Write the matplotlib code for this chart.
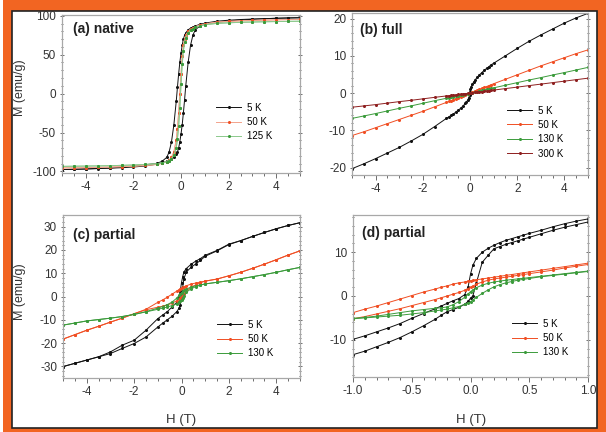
import matplotlib
matplotlib.use('Agg')
import matplotlib.pyplot as plt
from matplotlib.patches import Rectangle
from matplotlib.ticker import MultipleLocator, FormatStrFormatter

plt.rcParams['font.family'] = ['Liberation Sans', 'DejaVu Sans']
plt.rcParams['axes.unicode_minus'] = False

# ---- (a) native : field grid (ascending) and branches ----
Ha = [-5, -4.5, -4, -3.5, -3, -2.5, -2, -1.5, -1, -0.8, -0.6, -0.5, -0.4, -0.3, -0.2,
      -0.15, -0.1, -0.05, 0, 0.05, 0.1, 0.15, 0.2, 0.3, 0.4, 0.5, 0.6, 0.8, 1, 1.5,
      2, 2.5, 3, 3.5, 4, 4.5, 5]
a5_dn = [97.5, 97.2, 96.8, 96.3, 95.8, 95.2, 94.3, 93.0, 90.5, 89, 87, 85.5, 84, 82, 78,
         75, 70, 62, 52, 40, 25, 8, -10, -40, -62, -75, -82, -87, -89.5, -91.5,
         -93.3, -94.5, -95.5, -96.2, -96.8, -97.2, -97.6]
a5_up = [-97.6, -97.2, -96.8, -96.3, -95.8, -95.2, -94.3, -93.0, -90.5, -89, -87, -85.5, -84, -82, -78,
         -75, -70, -62, -52, -40, -25, -8, 10, 40, 62, 75, 82, 87, 89.5, 91.5,
         93.3, 94.5, 95.5, 96.2, 96.8, 97.2, 97.5]
a50_dn = [95.3, 95.1, 94.8, 94.4, 94, 93.5, 92.8, 91.8, 89.5, 88, 86, 84.5, 82.5, 80, 75,
          70, 62, 48, 25, 0, -25, -45, -60, -75, -82, -85.5, -87.5, -89.5, -91, -92.3,
          -93.2, -93.9, -94.4, -94.8, -95.1, -95.3, -95.5]
a50_up = [-95.5, -95.3, -95.1, -94.8, -94.4, -93.9, -93.2, -92.3, -91, -89.5, -87.5, -85.5, -82, -75, -60,
          -45, -25, 0, 25, 48, 62, 70, 75, 80, 82.5, 84.5, 86, 88, 89.5, 91.8,
          92.8, 93.5, 94, 94.4, 94.8, 95.1, 95.3]
a125_dn = [93, 92.8, 92.6, 92.3, 92, 91.6, 91, 90.2, 88.5, 87, 85, 83.5, 81.5, 78, 72,
           66, 55, 38, 12, -18, -42, -58, -70, -79, -83.5, -86, -87.5, -89, -90, -91,
           -91.7, -92.2, -92.6, -92.9, -93.1, -93.3, -93.5]
a125_up = [-93.5, -93.3, -93.1, -92.9, -92.6, -92.2, -91.7, -91, -90, -89, -87.5, -86, -83.5, -79, -70,
           -58, -42, -18, 12, 38, 55, 66, 72, 78, 81.5, 83.5, 85, 87, 88.5, 90.2,
           91, 91.6, 92, 92.3, 92.6, 92.8, 93]

# ---- (b) full ----
Hb5 = [-5, -4.5, -4, -3.5, -3, -2.5, -2, -1.5, -1, -0.9, -0.8, -0.7, -0.6, -0.5, -0.4,
       -0.3, -0.2, -0.15, -0.1, -0.05, -0.02, 0, 0.02, 0.05, 0.1, 0.15, 0.2, 0.3, 0.4,
       0.5, 0.6, 0.7, 0.8, 0.9, 1, 1.5, 2, 2.5, 3, 3.5, 4, 4.5, 5]
b5 = [-20.3, -19.0, -17.6, -16.1, -14.6, -12.9, -11.1, -9.0, -6.8, -6.4, -6.0, -5.6, -5.1, -4.6, -4.1,
      -3.5, -2.8, -2.4, -1.9, -1.2, -0.6, 0.2, 1.0, 1.7, 2.4, 2.9, 3.4, 4.2, 4.9,
      5.5, 6.1, 6.6, 7.1, 7.6, 8.0, 10.0, 12.0, 13.9, 15.6, 17.2, 18.8, 20.2, 21.4]
Hb = [-5, -4.5, -4, -3.5, -3, -2.5, -2, -1.5, -1, -0.9, -0.8, -0.7, -0.6, -0.5, -0.4,
      -0.3, -0.2, -0.1, 0, 0.1, 0.2, 0.3, 0.4, 0.5, 0.6, 0.7, 0.8, 0.9, 1, 1.5, 2,
      2.5, 3, 3.5, 4, 4.5, 5]
b50 = [-11.4, -10.4, -9.3, -8.2, -7.1, -6.0, -4.9, -3.7, -2.5, -2.25, -2.0, -1.75, -1.5, -1.25, -1.0,
       -0.75, -0.5, -0.25, 0, 0.25, 0.5, 0.75, 1.0, 1.25, 1.5, 1.75, 2.0, 2.25, 2.5, 3.7, 4.9,
       6.1, 7.3, 8.4, 9.5, 10.6, 11.6]
b130 = [-6.8, -6.15, -5.5, -4.8, -4.1, -3.45, -2.75, -2.05, -1.4, -1.25, -1.1, -0.97, -0.83, -0.69, -0.55,
        -0.41, -0.28, -0.14, 0, 0.14, 0.28, 0.41, 0.55, 0.69, 0.83, 0.97, 1.1, 1.25, 1.4, 2.1, 2.8,
        3.5, 4.15, 4.85, 5.5, 6.2, 6.9]
b300 = [-3.8, -3.45, -3.1, -2.7, -2.3, -1.95, -1.55, -1.15, -0.77, -0.7, -0.62, -0.54, -0.46, -0.38, -0.31,
        -0.23, -0.15, -0.08, 0, 0.08, 0.16, 0.24, 0.32, 0.4, 0.48, 0.56, 0.64, 0.72, 0.8, 1.2, 1.6,
        2.0, 2.4, 2.8, 3.2, 3.6, 4.0]

# ---- (c) partial, +-5 T ----
Hc = [-5, -4.5, -4, -3.5, -3, -2.5, -2, -1.5, -1, -0.8, -0.6, -0.4, -0.2, -0.1, -0.05,
      0, 0.05, 0.1, 0.2, 0.4, 0.6, 0.8, 1, 1.5, 2, 2.5, 3, 3.5, 4, 4.5, 5]
c5_up = [-30.1, -28.7, -27.3, -25.9, -24.5, -22.3, -20.2, -17.4, -13.1, -11.5, -10.0, -8.5, -6.5, -5.0, -3.5,
         -0.5, 4.0, 7.5, 10.5, 12.5, 14.0, 15.5, 17.3, 19.6, 22.3, 24.0, 25.8, 27.5, 29.1, 30.5, 31.7]
c5_dn = [31.7, 30.5, 29.1, 27.5, 25.8, 24.0, 22.5, 19.8, 17.7, 16.3, 15.2, 13.8, 12.0, 10.5, 8.5,
         6.0, 2.5, 0.0, -2.5, -4.5, -6.5, -8.0, -9.5, -14.5, -18.8, -20.9, -23.8, -25.9, -27.3, -28.7, -30.1]
c50_up = [-18.3, -16.4, -14.5, -12.8, -11.0, -9.3, -7.4, -5.7, -4.6, -4.2, -3.6, -2.9, -1.8, -1.0, -0.5,
          0.0, 0.6, 1.2, 2.3, 4.0, 5.0, 5.9, 6.6, 7.5, 8.9, 10.4, 12.1, 13.9, 15.8, 17.8, 19.6]
c50_dn = [19.6, 17.8, 15.8, 13.9, 12.1, 10.4, 8.9, 7.5, 6.6, 6.2, 5.8, 5.3, 4.6, 4.2, 4.0,
          3.7, 3.4, 3.0, 2.3, 1.0, -0.3, -1.5, -2.5, -5.5, -7.4, -9.3, -11.0, -12.8, -14.5, -16.4, -18.3]
c130_up = [-12.3, -11.4, -10.5, -9.9, -9.3, -8.6, -7.7, -6.6, -5.5, -5.0, -4.5, -3.9, -3.1, -2.5, -2.0,
           -1.4, -0.6, 0.3, 1.8, 3.3, 4.2, 4.9, 5.4, 6.1, 6.8, 7.6, 8.5, 9.4, 10.4, 11.5, 12.5]
c130_dn = [12.5, 11.5, 10.4, 9.4, 8.5, 7.6, 6.8, 6.1, 5.4, 5.0, 4.6, 4.0, 3.2, 2.6, 2.2,
           1.7, 1.1, 0.5, -0.7, -2.4, -3.5, -4.3, -5.0, -6.5, -7.7, -8.6, -9.3, -9.9, -10.5, -11.4, -12.3]

# ---- (d) partial, +-1 T ----
Hd = [-1, -0.9, -0.8, -0.7, -0.6, -0.5, -0.4, -0.3, -0.25, -0.2, -0.15, -0.1, -0.05, -0.02, 0,
      0.02, 0.05, 0.1, 0.15, 0.2, 0.25, 0.3, 0.35, 0.4, 0.45, 0.5, 0.6, 0.7, 0.8, 0.9, 1]
d5_up = [-13.4, -12.6, -11.6, -10.6, -9.5, -8.2, -6.8, -5.3, -4.4, -3.6, -3.1, -2.6, -1.9, -1.2, -0.5,
         0.0, 3.0, 7.7, 9.3, 10.8, 11.3, 11.8, 12.2, 12.6, 13.0, 13.4, 14.2, 15.0, 15.7, 16.3, 16.9]
d5_dn = [17.6, 17.1, 16.5, 15.8, 15.0, 14.3, 13.9, 13.5, 13.1, 12.7, 12.2, 11.6, 10.9, 10.0, 8.6,
         7.0, 5.0, 2.1, 0.3, -0.6, -1.1, -1.7, -2.3, -2.9, -4.0, -5.1, -6.3, -7.3, -8.2, -9.1, -9.9]
d50_up = [-5.2, -4.7, -4.1, -3.5, -2.9, -2.2, -1.5, -0.8, -0.4, 0.0, 0.4, 0.8, 1.3, 1.7, 2.0,
          2.3, 2.7, 3.2, 3.6, 3.9, 4.1, 4.3, 4.5, 4.7, 4.9, 5.1, 5.5, 5.9, 6.4, 6.8, 7.2]
d50_dn = [7.5, 7.1, 6.7, 6.3, 5.9, 5.5, 5.3, 5.1, 4.9, 4.7, 4.5, 4.3, 4.1, 3.9, 3.7,
          3.6, 3.5, 3.4, 3.2, 3.0, 2.7, 2.3, 2.0, 1.6, 0.9, 0.1, -0.7, -1.5, -2.3, -3.0, -3.8]
d130_up = [-5.2, -5.0, -4.8, -4.6, -4.4, -4.1, -3.8, -3.4, -3.2, -3.0, -2.7, -2.4, -1.9, -1.6, -1.3,
           -0.9, -0.3, 0.6, 1.4, 2.1, 2.6, 3.0, 3.3, 3.6, 3.8, 4.0, 4.4, 4.7, 5.0, 5.3, 5.6]
d130_dn = [5.7, 5.4, 5.1, 4.8, 4.5, 4.2, 4.05, 3.9, 3.75, 3.6, 3.4, 3.2, 2.9, 2.5, 1.9,
           1.4, 1.0, 0.5, -0.3, -1.3, -2.0, -2.5, -2.7, -2.8, -3.1, -3.4, -3.8, -4.2, -4.6, -4.9, -5.1]

BLACK = '#111111'
RED = '#f04e23'
GREEN = '#3b9b3b'
DRED = '#8e1f1f'
SPINE = '#a8a8a8'
TXT = '#333333'

fig = plt.figure(figsize=(6.06, 4.32), dpi=100)

# orange frame
fig.patches.append(Rectangle((3 / 606, 0), 1, 1, transform=fig.transFigure,
                             facecolor='#f26522', edgecolor='none', zorder=-3))
fig.patches.append(Rectangle((12 / 606, 4 / 432), (597 - 12) / 606, (428 - 11) / 432,
                             transform=fig.transFigure, facecolor='white',
                             edgecolor='#222222', linewidth=1.2, zorder=-2))

axes_px = {
    'a': (62, 15, 300, 173),
    'b': (352, 13, 588, 175),
    'c': (63, 215, 300, 378),
    'd': (353, 215, 588, 377),
}


def make_ax(key):
    x0, y0, x1, y1 = axes_px[key]
    ax = fig.add_axes([x0 / 606, 1 - y1 / 432, (x1 - x0) / 606, (y1 - y0) / 432])
    for s in ax.spines.values():
        s.set_color(SPINE)
        s.set_linewidth(0.9)
    ax.tick_params(which='both', direction='out', colors='#555555', labelcolor=TXT,
                   labelsize=8.5, width=0.6)
    ax.tick_params(which='major', length=3.5, pad=2.5)
    ax.tick_params(which='minor', length=2)
    ax.tick_params(which='both', right=True, top=False)
    ax.tick_params(axis='y', which='both', direction='inout')
    return ax


def branch(ax, x, y, color, label=None, lc=None):
    ax.plot(x, y, color=lc or color, lw=0.7, marker='o', ms=2.2, mfc=color, mec=color,
            mew=0, label=label)


def legend(ax, xa, ya):
    ax.legend(loc='center left', bbox_to_anchor=(xa, ya), frameon=False, fontsize=7,
              handlelength=2.6, handletextpad=0.6, labelspacing=0.45, borderpad=0,
              borderaxespad=0)


def title(ax, text, xa, ya):
    ax.text(xa, ya, text, transform=ax.transAxes, fontsize=10, fontweight='bold',
            color='#222222', ha='left', va='center')


# (a)
ax = make_ax('a')
branch(ax, Ha[::-1], a5_dn, BLACK, '5 K')
branch(ax, Ha, a5_up, BLACK)
branch(ax, Ha[::-1], a50_dn, RED, '50 K', lc='#f3a38c')
branch(ax, Ha, a50_up, RED, lc='#f3a38c')
branch(ax, Ha[::-1], a125_dn, GREEN, '125 K', lc='#8cc98c')
branch(ax, Ha, a125_up, GREEN, lc='#8cc98c')
ax.set_xlim(-5, 5)
ax.set_ylim(-102, 101)
ax.xaxis.set_major_locator(MultipleLocator(2))
ax.xaxis.set_minor_locator(MultipleLocator(0.5))
ax.yaxis.set_major_locator(MultipleLocator(50))
ax.yaxis.set_minor_locator(MultipleLocator(10))
title(ax, '(a) native', 0.046, 0.91)
legend(ax, 0.647, 0.323)

# (b)
ax = make_ax('b')
branch(ax, Hb5, b5, BLACK, '5 K')
branch(ax, Hb, b50, RED, '50 K')
branch(ax, Hb, b130, GREEN, '130 K')
branch(ax, Hb, b300, DRED, '300 K')
ax.set_xlim(-5, 5)
ax.set_ylim(-22, 21.5)
ax.xaxis.set_major_locator(MultipleLocator(2))
ax.xaxis.set_minor_locator(MultipleLocator(0.5))
ax.yaxis.set_major_locator(MultipleLocator(10))
ax.yaxis.set_minor_locator(MultipleLocator(2))
title(ax, '(b) full', 0.034, 0.895)
legend(ax, 0.657, 0.265)

# (c)
ax = make_ax('c')
branch(ax, Hc, c5_up, BLACK, '5 K')
branch(ax, Hc[::-1], c5_dn, BLACK)
branch(ax, Hc, c50_up, RED, '50 K')
branch(ax, Hc[::-1], c50_dn, RED)
branch(ax, Hc, c130_up, GREEN, '130 K')
branch(ax, Hc[::-1], c130_dn, GREEN)
ax.set_xlim(-5, 5)
ax.set_ylim(-35, 35)
ax.xaxis.set_major_locator(MultipleLocator(2))
ax.xaxis.set_minor_locator(MultipleLocator(0.5))
ax.yaxis.set_major_locator(MultipleLocator(10))
ax.yaxis.set_minor_locator(MultipleLocator(2))
title(ax, '(c) partial', 0.042, 0.877)
legend(ax, 0.65, 0.239)

# (d)
ax = make_ax('d')
branch(ax, Hd, d5_up, BLACK, '5 K')
branch(ax, Hd[::-1], d5_dn, BLACK)
branch(ax, Hd, d50_up, RED, '50 K')
branch(ax, Hd[::-1], d50_dn, RED)
branch(ax, Hd, d130_up, GREEN, '130 K')
branch(ax, Hd[::-1], d130_dn, GREEN)
ax.set_xlim(-1, 1)
ax.set_ylim(-18.5, 18.5)
ax.xaxis.set_major_locator(MultipleLocator(0.5))
ax.xaxis.set_minor_locator(MultipleLocator(0.1))
ax.xaxis.set_major_formatter(FormatStrFormatter('%.1f'))
ax.yaxis.set_major_locator(MultipleLocator(10))
ax.yaxis.set_minor_locator(MultipleLocator(2))
title(ax, '(d) partial', 0.037, 0.89)
legend(ax, 0.677, 0.24)

# axis labels
fig.text(20 / 606, 1 - 88 / 432, 'M (emu/g)', rotation=90, ha='center', va='center',
         fontsize=9, color=TXT)
fig.text(20 / 606, 1 - 292 / 432, 'M (emu/g)', rotation=90, ha='center', va='center',
         fontsize=9, color=TXT)
fig.text(181 / 606, 1 - 420 / 432, 'H (T)', ha='center', va='center', fontsize=9.5, color=TXT)
fig.text(471 / 606, 1 - 420 / 432, 'H (T)', ha='center', va='center', fontsize=9.5, color=TXT)

fig.savefig('out.png', dpi=100)
